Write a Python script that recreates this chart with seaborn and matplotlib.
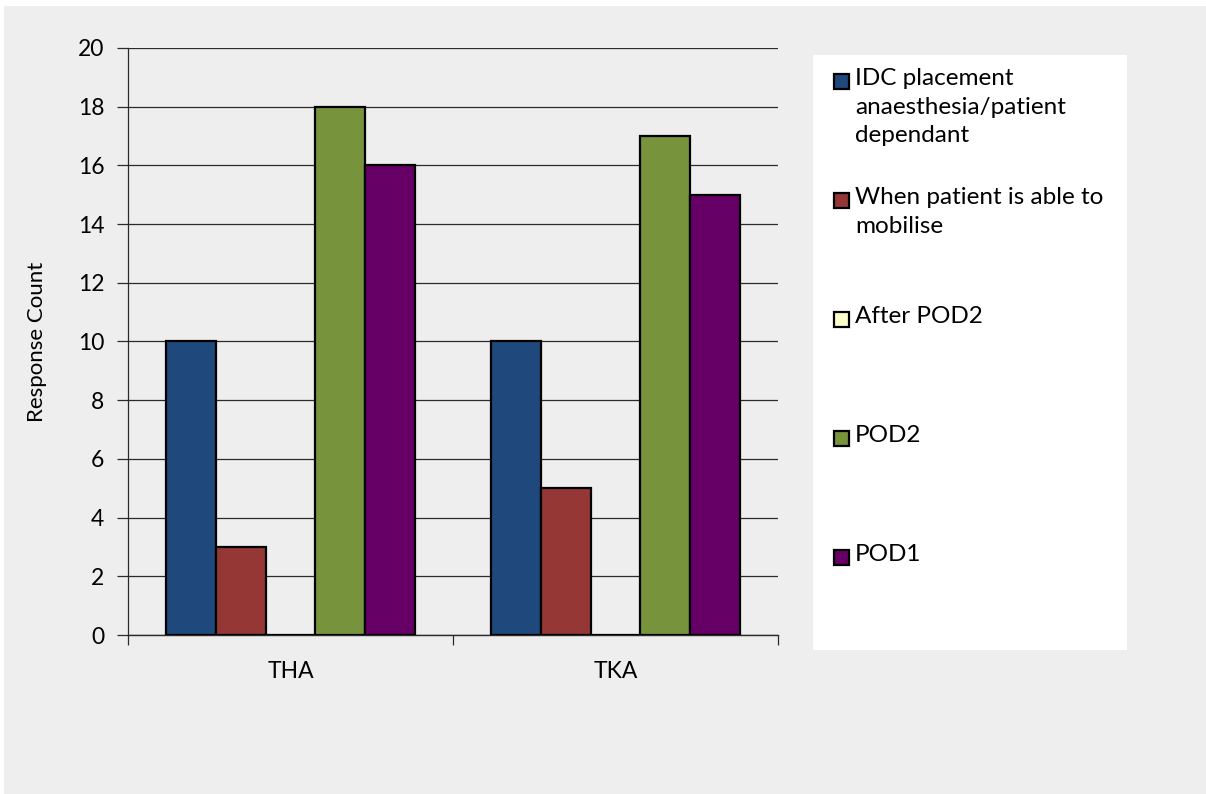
import matplotlib
matplotlib.use("Agg")
import matplotlib.pyplot as plt
from matplotlib.patches import Rectangle
import pandas as pd
import seaborn as sns

# Survey data: timing of IDC removal after joint arthroplasty
categories = ["THA", "TKA"]
series = [
    "IDC placement\nanaesthesia/patient\ndependant",
    "When patient is able to\nmobilise",
    "After POD2",
    "POD2",
    "POD1",
]
tha_counts = [10, 3, 0, 18, 16]
tka_counts = [10, 5, 0, 17, 15]
colors = ["#1F497D", "#953735", "#FFFFCC", "#77933C", "#660066"]
y_ticks = list(range(0, 21, 2))

df = pd.DataFrame({
    "procedure": [c for c in categories for _ in series],
    "response": series * len(categories),
    "count": tha_counts + tka_counts,
})

sns.set_theme(style="white")
plt.rcParams["font.family"] = ["Lato", "DejaVu Sans"]

W, H = 1206, 794
BG = "#EEEEEE"
LINE = "#2A2A2A"
fig = plt.figure(figsize=(W / 100, H / 100), dpi=100, facecolor=BG)

# thin white margin along the top and left edges
fig.patches.append(Rectangle((0, 1 - 6 / H), 1, 6 / H, transform=fig.transFigure,
                             facecolor="white", edgecolor="none", zorder=-3))
fig.patches.append(Rectangle((0, 0), 4 / W, 1, transform=fig.transFigure,
                             facecolor="white", edgecolor="none", zorder=-3))

ax = fig.add_axes([128 / W, 1 - 635 / H, 650 / W, (635 - 48) / H])
ax.set_facecolor(BG)

sns.barplot(data=df, x="procedure", y="count", hue="response", hue_order=series,
            order=categories, palette=colors, saturation=1, width=0.767,
            edgecolor="black", linewidth=1.6, ax=ax, legend=False, zorder=3)

ax.set_xlim(-0.5, 1.5)
ax.set_ylim(0, 20)
ax.set_yticks(y_ticks)
ax.yaxis.grid(True, color=LINE, linewidth=0.9, zorder=0)
ax.set_axisbelow(True)
for side in ["top", "right"]:
    ax.spines[side].set_visible(False)
ax.spines["left"].set_color(LINE)
ax.spines["left"].set_linewidth(0.9)
ax.spines["bottom"].set_color(LINE)
ax.spines["bottom"].set_linewidth(1.0)

ax.tick_params(axis="y", which="major", direction="out", length=8, width=0.9,
               color=LINE, labelsize=16.5, pad=9, left=True, labelcolor="black")
ax.set_xticks([0, 1])
ax.set_xticklabels(categories)
ax.set_xticks([-0.5, 0.5, 1.5], minor=True)
ax.tick_params(axis="x", which="major", length=0, labelsize=16.5, pad=19,
               labelcolor="black")
ax.tick_params(axis="x", which="minor", direction="out", length=7, width=0.9,
               color=LINE, bottom=True)
ax.set_xlabel("")
ax.set_ylabel("Response Count", fontsize=16, labelpad=22, color="black")

# legend panel
lx0, ly0, lx1, ly1 = 813, 55, 1127, 650
fig.patches.append(Rectangle((lx0 / W, 1 - ly1 / H), (lx1 - lx0) / W, (ly1 - ly0) / H,
                             transform=fig.transFigure, facecolor="white",
                             edgecolor="none", zorder=-2))
for i, (name, col) in enumerate(zip(series, colors)):
    yc = 82 + i * 119
    fig.patches.append(Rectangle((834 / W, 1 - (yc + 7) / H), 15 / W, 15 / H,
                                 transform=fig.transFigure, facecolor=col,
                                 edgecolor="black", linewidth=1.6, zorder=1))
    fig.text(855 / W, 1 - (yc - 14) / H, name, ha="left", va="top", fontsize=17.5,
             linespacing=1.45, color="black", zorder=2)

fig.savefig("out.png", dpi=100, facecolor=fig.get_facecolor())
